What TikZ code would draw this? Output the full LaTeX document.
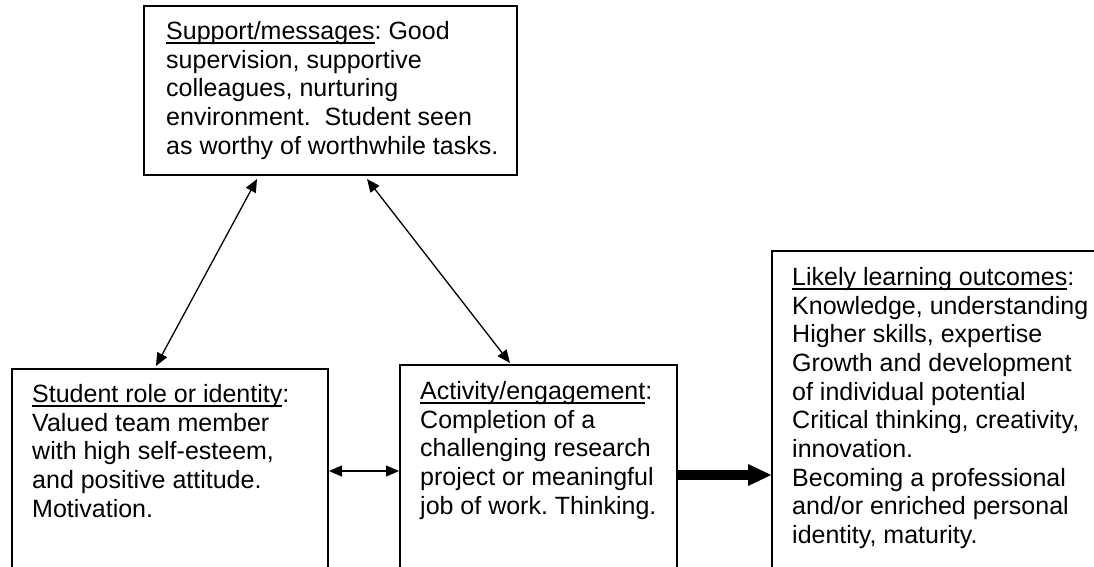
\documentclass[tikz,border=0pt]{standalone}
\usepackage{fontspec}
\setmainfont{Liberation Sans}
\usetikzlibrary{arrows.meta,calc}
\frenchspacing

% underline set just below the baseline, through the descenders
\newcommand\ulword[1]{\setbox0=\hbox{#1}\rlap{\rule[-4.3pt]{\wd0}{1.8pt}}\box0}

\tikzset{
  box/.style={draw, line width=1.7pt, outer sep=0pt, inner sep=0pt, anchor=north west},
  boxtext/.style={anchor=north west, inner sep=0pt, align=left,
    font=\fontsize{25}{28.7}\selectfont},
  link/.style={line width=1.3pt, {Triangle[length=13pt,width=11pt]}-{Triangle[length=13pt,width=11pt]}},
  flow/.style={line width=10pt, -{Triangle[length=24pt,width=20pt]}}
}

\begin{document}
\begin{tikzpicture}[x=1pt,y=-1pt]
\useasboundingbox (0,0) rectangle (1094,567);
\fill[white] (0,0) rectangle (1094,567);
\clip (0,0) rectangle (1094,567);

% boxes
\node[box, minimum width=373pt, minimum height=169pt] (sup) at (144,6) {};
\node[box, minimum width=316pt, minimum height=260pt] (role) at (12,369) {};
\node[box, minimum width=277pt, minimum height=260pt] (act) at (400,365) {};
\node[box, minimum width=360pt, minimum height=380pt] (out) at (772,251) {};

% box texts
\node[boxtext] (supT) at ($(sup.north west)+(22,15)$)
  {\ulword{Support/messages}: Good\\
   supervision, supportive\\
   colleagues, nurturing\\
   environment.\ \ Student seen\\
   as worthy of worthwhile tasks.};
\node[boxtext] (roleT) at ($(role.north west)+(20,15)$)
  {\ulword{Student role or identity}:\\
   Valued team member\\
   with high self-esteem,\\
   and positive attitude.\\
   Motivation.};
\node[boxtext] (actT) at ($(act.north west)+(20,16)$)
  {\ulword{Activity/engagement}:\\
   Completion of a\\
   challenging research\\
   project or meaningful\\
   job of work. Thinking.};
\node[boxtext] (outT) at ($(out.north west)+(20,16)$)
  {\ulword{Likely learning outcomes}:\\
   Knowledge, understanding\\
   Higher skills, expertise\\
   Growth and development\\
   of individual potential\\
   Critical thinking, creativity,\\
   innovation.\\
   Becoming a professional\\
   and/or enriched personal\\
   identity, maturity.};

% arrow end points just off the box borders
\coordinate (supL) at ($(sup.south west)+(113,4)$);
\coordinate (supR) at ($(sup.south west)+(223,4)$);
\coordinate (roleTop) at ($(role.north west)+(144,-3)$);
\coordinate (actTop) at ($(act.north west)+(110,-2)$);
\coordinate (roleE) at ($(role.north east)+(1,102)$);
\coordinate (actW) at ($(act.north west)+(-1,106)$);
\coordinate (actE) at ($(act.north east)+(1,110)$);
\coordinate (outW) at ($(out.north west)+(0,224)$);

% connectors
\draw[link] (supL) -- (roleTop);
\draw[link] (supR) -- (actTop);
\draw[link] (roleE) -- (actW);
\draw[flow] (actE) -- (outW);
\end{tikzpicture}
\end{document}
